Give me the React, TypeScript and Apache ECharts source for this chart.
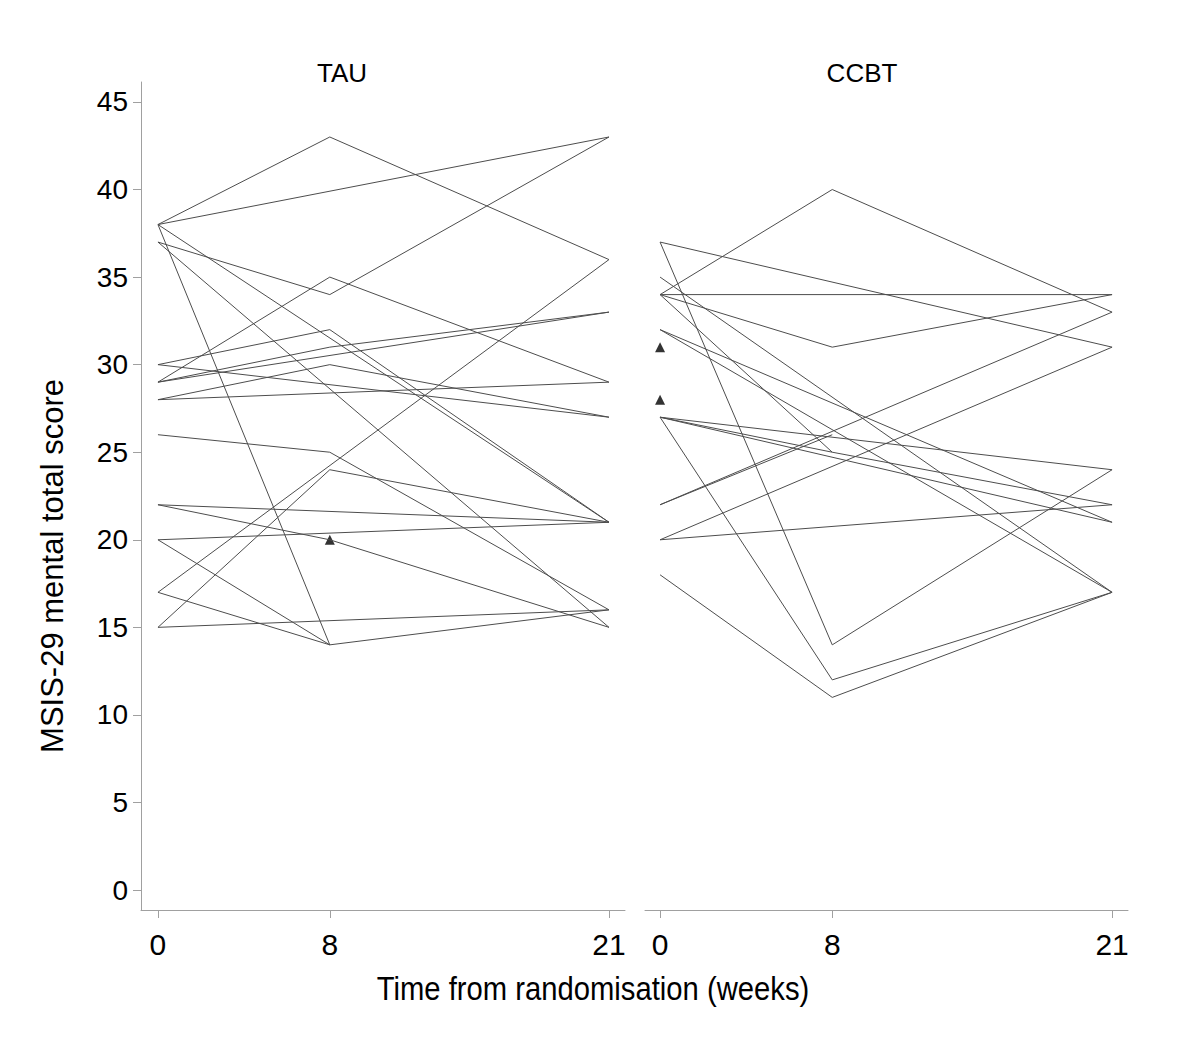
import React, { useEffect, useRef } from "react";
import * as echarts from "echarts";

const weeks = [0, 8, 21];
const yTicks = [0, 5, 10, 15, 20, 25, 30, 35, 40, 45];
const xTicks = [0, 8, 21];

// Each subject: scores at weeks 0, 8, 21 (null = missing)
const tauSubjects: (number | null)[][] = [
  [38, 43, 36],
  [38, null, 43],
  [37, 34, 43],
  [38, 14, null],
  [38, null, 21],
  [37, null, 15],
  [30, 32, 21],
  [30, null, 27],
  [29, 35, 29],
  [29, null, 33],
  [29, 31, 33],
  [28, 30, 27],
  [28, null, 29],
  [26, 25, 16],
  [22, null, 21],
  [22, 20, 15],
  [20, null, 21],
  [20, 14, null],
  [17, null, 36],
  [17, 14, 16],
  [15, 24, 21],
  [15, null, 16],
];
const tauSingles: [number, number][] = [[8, 20]];

const ccbtSubjects: (number | null)[][] = [
  [37, 14, 24],
  [37, null, 31],
  [35, null, 17],
  [34, 40, 33],
  [34, null, 34],
  [34, 31, 34],
  [34, 25, null],
  [32, null, 21],
  [32, null, 17],
  [27, 25, 22],
  [27, null, 24],
  [27, null, 21],
  [27, 12, 17],
  [22, null, 33],
  [22, 26, null],
  [20, null, 22],
  [20, null, 31],
  [18, 11, 17],
];
const ccbtSingles: [number, number][] = [[0, 31], [0, 28]];

const LINE = "#4d4d4d";
const AXIS = "#a0a0a0";
const FONT = "Liberation Sans, Arial, sans-serif";

function toPairs(s: (number | null)[]) {
  const out: [number, number][] = [];
  s.forEach((v, i) => {
    if (v !== null) out.push([weeks[i], v]);
  });
  return out;
}

export default function App() {
  const ref = useRef<HTMLDivElement>(null);
  useEffect(() => {
    if (!ref.current) return;
    const chart = echarts.init(ref.current, null, { renderer: "svg" });

    const xAxisBase = (gridIndex: number, min: number, max: number) => ({
      type: "value",
      gridIndex,
      min,
      max,
      axisLine: { show: true, onZero: false, lineStyle: { color: AXIS, width: 1 } },
      axisTick: {
        show: true,
        length: 8,
        lineStyle: { color: AXIS },
        customValues: xTicks,
      },
      axisLabel: {
        show: true,
        customValues: xTicks,
        color: "#000",
        fontSize: 30,
        fontFamily: FONT,
        margin: 19,
      },
      splitLine: { show: false },
    });

    const series: any[] = [];
    tauSubjects.forEach((s) =>
      series.push({
        type: "line",
        xAxisIndex: 0,
        yAxisIndex: 0,
        data: toPairs(s),
        symbol: "none",
        lineStyle: { color: LINE, width: 1 },
        silent: true,
      })
    );
    ccbtSubjects.forEach((s) =>
      series.push({
        type: "line",
        xAxisIndex: 1,
        yAxisIndex: 1,
        data: toPairs(s),
        symbol: "none",
        lineStyle: { color: LINE, width: 1 },
        silent: true,
      })
    );
    series.push({
      type: "scatter",
      xAxisIndex: 0,
      yAxisIndex: 0,
      data: tauSingles,
      symbol: "triangle",
      symbolSize: 10,
      itemStyle: { color: "#000" },
    });
    series.push({
      type: "scatter",
      xAxisIndex: 1,
      yAxisIndex: 1,
      data: ccbtSingles,
      symbol: "triangle",
      symbolSize: 10,
      itemStyle: { color: "#000" },
    });

    chart.setOption({
      animation: false,
      backgroundColor: "#fff",
      grid: [
        { left: 141, right: 575, top: 82, bottom: 130 },
        { left: 645, right: 72, top: 82, bottom: 130 },
      ],
      xAxis: [xAxisBase(0, -0.79, 21.745), xAxisBase(1, -0.7, 21.74)],
      yAxis: [
        {
          type: "value",
          gridIndex: 0,
          min: -1.14,
          max: 46.14,
          axisLine: { show: true, onZero: false, lineStyle: { color: AXIS, width: 1 } },
          axisTick: {
            show: true,
            length: 8,
            lineStyle: { color: AXIS },
            customValues: yTicks,
          },
          axisLabel: {
            show: true,
            customValues: yTicks,
            color: "#000",
            fontSize: 28,
            fontFamily: FONT,
            margin: 13,
          },
          splitLine: { show: false },
        },
        {
          type: "value",
          gridIndex: 1,
          min: -1.14,
          max: 46.14,
          axisLine: { show: false, onZero: false },
          axisTick: { show: false },
          axisLabel: { show: false },
          splitLine: { show: false },
        },
      ],
      graphic: [
        {
          type: "text",
          x: 342,
          y: 73,
          style: {
            text: "TAU",
            fontSize: 26,
            fontFamily: FONT,
            fill: "#000",
            textAlign: "center",
            textVerticalAlign: "middle",
          },
        },
        {
          type: "text",
          x: 862,
          y: 73,
          style: {
            text: "CCBT",
            fontSize: 26,
            fontFamily: FONT,
            fill: "#000",
            textAlign: "center",
            textVerticalAlign: "middle",
          },
        },
        {
          type: "text",
          x: 593,
          y: 988,
          scaleX: 0.86,
          style: {
            text: "Time from randomisation (weeks)",
            fontSize: 34,
            fontFamily: FONT,
            fill: "#000",
            textAlign: "center",
            textVerticalAlign: "middle",
          },
        },
        {
          type: "text",
          x: 52,
          y: 566,
          rotation: Math.PI / 2,
          style: {
            text: "MSIS-29 mental total score",
            fontSize: 31,
            fontFamily: FONT,
            fill: "#000",
            textAlign: "center",
            textVerticalAlign: "middle",
          },
        },
      ],
      series,
    });
    return () => chart.dispose();
  }, []);
  return (
    <div
      ref={ref}
      style={{ position: "fixed", left: 0, top: 0, width: 1200, height: 1040, background: "#fff" }}
    />
  );
}
